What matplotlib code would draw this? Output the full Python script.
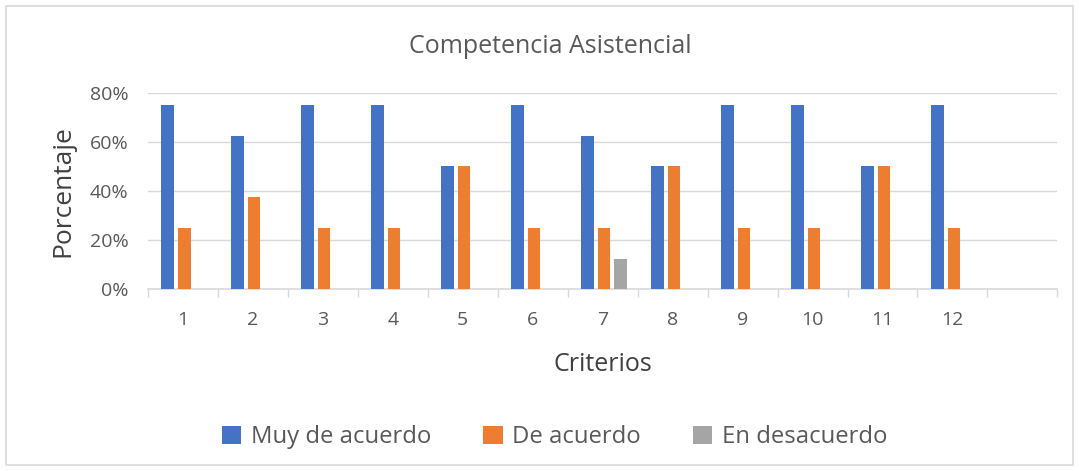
import matplotlib.pyplot as plt
from matplotlib.patches import Rectangle
from matplotlib.ticker import PercentFormatter, FixedLocator
import numpy as np

# --- datos ---
criterios = ["1", "2", "3", "4", "5", "6", "7", "8", "9", "10", "11", "12", ""]
muy_de_acuerdo = [75, 62.5, 75, 75, 50, 75, 62.5, 50, 75, 75, 50, 75, 0]
de_acuerdo = [25, 37.5, 25, 25, 50, 25, 25, 50, 25, 25, 50, 25, 0]
en_desacuerdo = [0, 0, 0, 0, 0, 0, 12.5, 0, 0, 0, 0, 0, 0]

series = [
    ("Muy de acuerdo", muy_de_acuerdo, "#4472C4"),
    ("De acuerdo", de_acuerdo, "#ED7D31"),
    ("En desacuerdo", en_desacuerdo, "#A5A5A5"),
]

plt.rcParams["font.family"] = ["Open Sans", "DejaVu Sans"]
texto = "#595959"

fig = plt.figure(figsize=(10.79, 4.71), dpi=100)
ax = fig.add_axes([0.137, 0.386, 0.843, 0.417])

# marco exterior del gráfico
fig.patches.append(Rectangle((0.006, 0.012), 0.988, 0.976, transform=fig.transFigure,
                             fill=False, edgecolor="#D9D9D9", linewidth=1.2))

x = np.arange(len(criterios))
sep = 0.235
ancho = 0.18
for k, (nombre, vals, color) in enumerate(series):
    ax.bar(x + (k - 1) * sep + 0.02, vals, width=ancho, color=color, label=nombre, zorder=3)

ax.set_xlim(-0.5, len(criterios) - 0.5)
ax.set_ylim(0, 80)
ax.set_yticks([0, 20, 40, 60, 80])
ax.yaxis.set_major_formatter(PercentFormatter(100, decimals=0))
ax.grid(axis="y", color="#D9D9D9", linewidth=1, zorder=0)

ax.set_xticks(x)
ax.set_xticklabels(criterios)
ax.xaxis.set_minor_locator(FixedLocator(np.arange(-0.5, len(criterios), 1.0)))
ax.tick_params(axis="x", which="major", length=0, pad=16, labelsize=14, labelcolor=texto)
ax.tick_params(axis="x", which="minor", length=6, color="#D9D9D9", width=1)
ax.tick_params(axis="y", length=0, pad=14, labelsize=14, labelcolor=texto)

for lado in ["top", "right", "left"]:
    ax.spines[lado].set_visible(False)
ax.spines["bottom"].set_color("#D9D9D9")
ax.spines["bottom"].set_linewidth(1.2)

ax.set_xlabel("Criterios", fontsize=18, color="#404040", labelpad=16)
ax.set_ylabel("Porcentaje", fontsize=19, color="#404040", labelpad=10)
fig.text(0.51, 0.902, "Competencia Asistencial", ha="center", va="center",
         fontsize=18, color=texto)

fig.legend(loc="center", bbox_to_anchor=(0.514, 0.072), ncol=3, frameon=False,
           fontsize=17.2, handlelength=0.8, handleheight=0.8, columnspacing=2.2,
           handletextpad=0.4, labelcolor=texto)

fig.savefig("out.png", dpi=100)
